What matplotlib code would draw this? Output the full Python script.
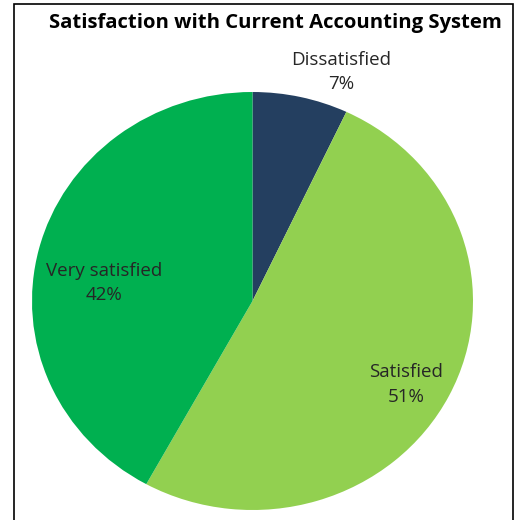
import matplotlib.pyplot as plt
from matplotlib.patches import Rectangle

plt.rcParams["font.family"] = ["Open Sans", "DejaVu Sans"]

categories = ["Dissatisfied", "Satisfied", "Very satisfied"]
shares = [7, 51, 42]
colors = ["#243F60", "#92D050", "#00B050"]
# label centres in pie data units
label_pos = [(0.40, 1.095), (0.695, -0.40), (-0.673, 0.086)]

W, H = 514, 520
fig = plt.figure(figsize=(W / 100, H / 100), dpi=100)

# chart border (bottom edge cropped in reference)
fig.patches.append(Rectangle((14 / W, -0.1), (512.5 - 14) / W, 1.1 - 4 / H,
                             transform=fig.transFigure, fill=False,
                             edgecolor="black", linewidth=1.2))

ax = fig.add_axes([32 / W, 10 / H, 441 / W, 418 / H])
ax.pie(shares, colors=colors, startangle=90, counterclock=False,
       wedgeprops=dict(linewidth=0), radius=1)
ax.set_aspect("auto")
ax.set_xlim(-1, 1)
ax.set_ylim(-1, 1)
ax.axis("off")

for name, val, (x, y) in zip(categories, shares, label_pos):
    ax.text(x, y, f"{name}\n{val}%", ha="center", va="center",
            fontsize=13.5, color="#262626", linespacing=1.45, clip_on=False)

fig.text(275 / W, 1 - 23 / H, "Satisfaction with Current Accounting System",
         ha="center", va="center", fontsize=14.6, fontweight="bold",
         color="black")

fig.savefig("out.png", dpi=100)
